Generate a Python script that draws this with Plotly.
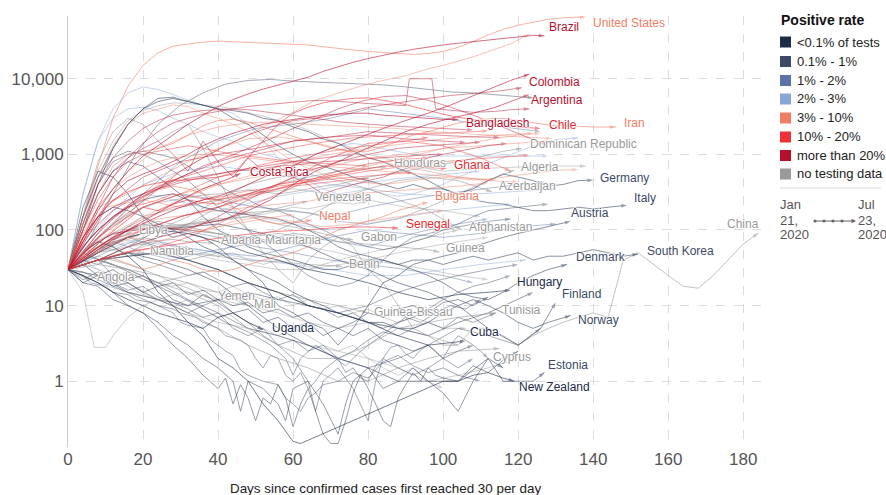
import math
import plotly.graph_objects as go

# ---------------- categories ----------------
CATEGORIES = ["<0.1% of tests", "0.1% - 1%", "1% - 2%", "2% - 3%",
              "3% - 10%", "10% - 20%", "more than 20%", "no testing data"]
CAT_COLORS = ["#1c2b48", "#3b4a66", "#5a72a6", "#87a7da",
              "#f07e66", "#ec3237", "#b5102e", "#9b9b9b"]

X_TICKS = [0, 20, 40, 60, 80, 100, 120, 140, 160, 180]
Y_TICKS = [1, 10, 100, 1000, 10000]
Y_TICK_TEXT = ["1", "10", "100", "1,000", "10,000"]

# ---------------- labelled countries: (day, 7-day avg new cases) ----------------
united_states = [(0,30),(4,150),(8,700),(12,3000),(16,8000),(20,15000),(24,22000),(28,27000),(32,29000),(36,30500),(40,31500),(44,31000),(48,30000),(52,29500),(56,29000),(60,28500),(64,28000),(68,26500),(72,25500),(76,24000),(80,23000),(84,22000),(88,21500),(92,21000),(96,21500),(100,23000),(104,26000),(108,31000),(112,38000),(116,45000),(120,51000),(124,56000),(128,61000),(132,64000),(138,66000)]
brazil = [(0,30),(4,70),(8,180),(12,350),(16,600),(20,950),(24,1300),(28,1800),(32,2500),(36,3300),(40,4300),(44,5300),(48,6300),(52,7300),(56,8300),(60,9300),(64,10500),(68,12500),(72,14500),(76,16500),(80,18500),(84,20500),(88,22500),(92,24500),(96,26500),(100,28000),(104,29500),(108,31000),(112,32500),(116,34000),(120,35500),(124,37500),(127,37000)]
colombia = [(0,30),(6,50),(12,80),(18,110),(24,150),(30,200),(36,250),(42,300),(48,400),(54,550),(60,700),(66,1000),(72,1300),(78,1700),(84,2200),(90,2800),(96,3500),(102,4500),(108,6000),(114,8000),(118,9500),(123,11500)]
argentina = [(0,30),(6,60),(12,90),(18,100),(24,110),(30,100),(36,120),(42,140),(48,180),(54,250),(60,400),(66,600),(72,800),(78,1100),(84,1500),(90,2000),(96,2500),(102,3000),(108,3500),(114,4200),(118,5000),(123,6200)]
bangladesh = [(0,30),(4,70),(8,150),(12,300),(16,450),(20,550),(24,650),(28,800),(32,1000),(36,1300),(40,1600),(44,1900),(48,2200),(52,2500),(56,2700),(60,2900),(64,3100),(68,3300),(72,3400),(76,3500),(80,3500),(84,3300),(88,3200),(92,3100),(96,3000),(100,2900),(104,2900)]
chile = [(0,30),(4,80),(8,150),(12,250),(16,320),(20,380),(24,420),(28,450),(32,460),(36,480),(40,500),(44,550),(48,900),(52,1500),(56,2500),(60,3500),(64,4200),(68,4800),(72,5200),(76,5500),(80,5600),(84,5200),(88,4800),(92,4300),(96,3800),(100,3400),(104,3100),(108,2900),(112,2700),(116,2500),(120,2300),(126,2200)]
iran = [(0,30),(4,100),(8,300),(12,700),(16,1000),(20,1100),(24,1200),(28,1400),(32,1800),(36,2400),(40,2800),(44,2900),(48,2700),(52,2300),(56,2000),(60,1700),(64,1500),(68,1300),(72,1150),(76,1100),(80,1100),(84,1250),(88,1500),(92,1800),(96,2000),(100,2300),(104,2600),(108,2800),(112,2950),(116,3000),(120,2800),(124,2600),(128,2450),(132,2400),(136,2350),(140,2300),(146,2300)]
costa_rica = [(0,30),(4,40),(8,55),(12,75),(16,100),(20,130),(24,170),(28,220),(32,280),(36,350),(40,420),(44,500),(46,560)]
ghana = [(0,30),(4,50),(8,80),(12,110),(16,150),(20,200),(24,180),(28,220),(32,250),(36,230),(40,220),(44,260),(48,300),(52,350),(56,400),(60,430),(64,460),(68,500),(72,550),(76,600),(80,650),(84,700),(88,700),(92,680),(96,660),(101,650)]
bulgaria = [(0,30),(4,35),(8,40),(12,42),(16,36),(20,30),(24,34),(28,40),(32,36),(36,30),(40,28),(44,30),(48,35),(52,40),(56,45),(60,50),(64,60),(68,80),(72,100),(76,115),(80,130),(84,150),(88,180),(92,205),(96,234)]
nepal = [(0,30),(4,50),(8,80),(12,120),(16,190),(20,280),(24,340),(28,380),(32,350),(36,300),(40,250),(44,200),(48,160),(52,130),(56,120),(60,125),(65,135)]
senegal = [(0,30),(8,40),(16,52),(24,60),(32,68),(40,78),(48,88),(56,96),(64,100),(72,108),(80,110),(88,106)]
honduras = [(0,30),(8,40),(16,50),(24,80),(32,120),(40,200),(48,300),(56,400),(64,500),(72,600),(80,660),(85,680)]
dominican_republic = [(0,30),(4,50),(8,80),(12,120),(16,160),(20,200),(24,230),(28,250),(32,270),(36,290),(40,300),(44,320),(48,340),(52,320),(56,300),(60,320),(64,350),(68,380),(72,400),(76,450),(80,500),(84,540),(88,580),(92,620),(96,680),(100,740),(104,800),(108,880),(112,980),(116,1100),(121,1200)]
algeria = [(0,30),(8,60),(16,100),(24,110),(32,120),(40,130),(48,170),(56,180),(64,170),(72,130),(80,120),(88,140),(96,200),(104,300),(112,450),(119,620)]
azerbaijan = [(0,30),(8,40),(16,50),(24,48),(32,40),(40,50),(48,80),(56,100),(64,150),(72,250),(80,350),(88,450),(96,500),(104,450),(113,320)]
venezuela = [(0,30),(8,55),(16,80),(24,100),(32,115),(40,130),(48,150),(56,195),(64,240)]
afghanistan = [(0,30),(8,40),(16,60),(24,100),(32,150),(40,250),(48,400),(56,500),(64,550),(72,450),(80,350),(88,250),(96,180),(105,100)]
gabon = [(0,30),(8,40),(16,60),(24,100),(32,120),(40,140),(48,150),(56,120),(64,100),(72,80),(76,74)]
guinea = [(0,30),(8,50),(16,100),(24,120),(32,100),(40,90),(48,80),(56,90),(64,80),(72,70),(80,65),(88,60),(96,55),(99,51)]
libya = [(0,30),(4,40),(8,55),(12,75),(17,94)]
albania = [(0,30),(4,40),(8,50),(12,55),(16,60),(20,65),(24,72),(28,75),(32,70),(36,68),(39,67)]
mauritania = [(0,30),(8,60),(16,100),(24,130),(32,110),(40,90),(48,72),(51,67)]
namibia = [(0,30),(4,35),(8,40),(12,45),(16,50),(20,48)]
benin = [(0,30),(8,40),(16,45),(24,50),(32,50),(40,45),(48,40),(56,38),(64,35),(73,33)]
angola = [(0,30),(3,25),(6,22)]
yemen = [(0,30),(4,40),(8,45),(12,40),(16,35),(20,30),(24,25),(28,20),(32,17),(36,14),(38,12.7)]
mali = [(0,30),(8,35),(16,30),(24,25),(32,20),(40,15),(48,10)]
guinea_bissau = [(0,30),(8,40),(16,30),(24,20),(32,25),(40,30),(48,20),(56,15),(64,12),(72,10),(80,8)]
tunisia = [(0,30),(8,40),(16,30),(24,20),(32,15),(40,10),(48,5),(56,3),(64,2),(72,2),(80,3),(88,5),(96,6),(104,7),(114,8)]
cyprus = [(0,30),(8,25),(16,20),(24,12),(32,8),(40,5),(48,3),(56,2),(64,1.5),(72,1),(80,1),(88,1.5),(96,2),(104,2.5),(115,2.7)]
china = [(0,30),(4,150),(8,800),(12,2000),(16,3000),(20,2500),(24,1500),(28,2000),(32,2500),(36,1200),(40,500),(44,200),(48,100),(52,50),(56,30),(60,20),(64,40),(68,60),(72,80),(76,60),(80,30),(84,20),(88,10),(92,5),(96,4),(100,3),(104,3),(108,5),(112,5),(116,4),(120,3),(124,4),(128,5),(132,6),(136,7),(140,8),(144,7),(148,40),(152,50),(156,35),(160,25),(164,18),(168,17),(172,25),(176,40),(180,65),(184,91)]
germany = [(0,30),(4,100),(8,400),(12,1200),(16,2500),(20,4000),(24,5000),(28,5500),(32,5000),(36,4500),(40,4000),(44,3000),(48,2500),(52,1800),(56,1300),(60,1000),(64,800),(68,700),(72,600),(76,500),(80,450),(84,400),(88,350),(92,400),(96,350),(100,350),(104,300),(108,350),(112,450),(116,550),(120,500),(124,450),(128,380),(132,400),(136,450),(140,457)]
italy = [(0,30),(4,150),(8,500),(12,1200),(16,2500),(20,4000),(24,5500),(28,5700),(32,5000),(36,4500),(40,4000),(44,3800),(48,3500),(52,3000),(56,2800),(60,2300),(64,2000),(68,1600),(72,1400),(76,1100),(80,900),(84,800),(88,650),(92,550),(96,450),(100,350),(104,300),(108,250),(112,230),(116,220),(120,200),(124,180),(128,180),(132,190),(136,200),(140,190),(144,200),(149,213)]
austria = [(0,30),(4,100),(8,300),(12,600),(16,800),(20,700),(24,500),(28,350),(32,250),(36,150),(40,100),(44,80),(48,60),(52,50),(56,45),(60,40),(64,35),(68,30),(72,30),(76,35),(80,40),(84,40),(88,35),(92,40),(96,40),(100,45),(104,50),(108,60),(112,70),(116,80),(120,90),(124,100),(128,110),(134,130)]
denmark = [(0,30),(4,60),(8,100),(12,150),(16,200),(20,250),(24,280),(28,300),(32,250),(36,200),(40,180),(44,170),(48,160),(52,150),(56,140),(60,120),(64,100),(68,80),(72,60),(76,50),(80,45),(84,40),(88,35),(92,30),(96,25),(100,20),(104,15),(108,13),(112,12),(116,15),(120,20),(124,25),(128,30),(133,35)]
south_korea = [(0,30),(4,200),(8,600),(12,500),(16,300),(20,150),(24,100),(28,80),(32,90),(36,80),(40,60),(44,40),(48,30),(52,20),(56,10),(60,8),(64,6),(68,5),(72,3),(76,5),(80,10),(84,20),(88,25),(92,35),(96,40),(100,35),(104,40),(108,45),(112,40),(116,45),(120,50),(124,40),(128,45),(132,45),(136,50),(140,55),(144,50),(148,45),(152,48)]
hungary = [(0,30),(8,50),(16,80),(24,100),(32,90),(40,70),(48,50),(56,40),(64,30),(72,25),(80,20),(88,15),(96,12),(104,14),(112,15),(118,16)]
finland = [(0,30),(8,50),(16,80),(24,100),(32,110),(40,120),(48,100),(56,80),(64,60),(72,40),(80,30),(88,20),(96,15),(104,10),(112,5),(120,3),(126,5),(130,11)]
norway = [(0,30),(4,80),(8,150),(12,200),(16,180),(20,150),(24,120),(28,100),(32,80),(36,60),(40,50),(44,40),(48,30),(52,25),(56,20),(60,15),(64,12),(68,10),(72,8),(76,7),(80,6),(84,6),(88,5),(92,5),(96,6),(100,8),(104,10),(108,12),(112,10),(116,8),(120,6),(124,5),(128,6),(134,7.4)]
estonia = [(0,30),(8,40),(16,50),(24,40),(32,30),(40,20),(48,10),(56,5),(64,3),(72,2),(80,1.5),(88,1),(96,1),(104,1),(112,2),(116,1),(120,1),(124,1),(127,1.3)]
new_zealand = [(0,30),(4,50),(8,70),(12,60),(16,45),(20,30),(24,15),(28,10),(32,6),(36,4),(40,2),(44,1.5),(48,1),(52,0.5),(56,0.3),(60,0.16),(62,0.15),(100,1),(104,1),(108,1.2),(112,1.3),(116,1.1),(119,1.0)]
cuba = [(0,30),(8,40),(16,45),(24,50),(32,40),(40,30),(48,20),(56,15),(64,10),(72,8),(80,6),(88,4),(96,3),(106,3.4)]
uganda = [(0,30),(4,25),(8,20),(12,15),(16,12),(20,10),(24,8),(28,7),(32,6),(36,5),(40,7),(44,8),(48,6),(52,4.8)]

# ---------------- unlabelled countries ----------------
un_india = [(0,30),(6,60),(12,100),(18,200),(24,400),(30,600),(36,900),(42,1300),(48,1800),(54,2600),(60,3600),(66,5200),(72,6500),(78,8000),(84,9500),(90,11000),(96,13500),(102,16000),(108,19500),(114,24500),(118,29000),(123,39000)]
un_mexico = [(0,30),(6,60),(12,120),(18,200),(24,350),(30,600),(36,900),(42,1300),(48,1800),(54,2300),(60,2800),(66,3000),(72,3400),(78,4000),(84,4500),(90,5000),(96,5500),(102,6000),(108,6400),(114,6800),(121,7600)]
un_peru = [(0,30),(4,80),(8,200),(12,500),(16,900),(20,1400),(24,2000),(28,2600),(32,3000),(36,3400),(40,3700),(44,4000),(48,4300),(52,4500),(56,4700),(60,4900),(64,5100),(68,5200),(72,5000),(76,4800),(80,4700),(84,4600),(88,4500),(90,4400),(91,10000),(97,10000),(98,4000),(102,3800),(108,3600),(114,3700),(118,3900),(123,4000)]
un_r1 = [(0,30),(10,200),(20,500),(30,800),(40,1000),(50,1200),(60,1500),(70,1700),(80,2000),(90,1900),(100,1800),(108,1700),(115,1680)]
un_r2 = [(0,30),(10,120),(20,300),(30,500),(40,800),(50,1100),(60,1500),(70,1700),(80,1800),(90,1600),(100,1500),(106,1440)]
un_r3 = [(0,30),(10,80),(20,200),(30,300),(40,500),(50,700),(60,900),(70,1100),(80,1300),(90,1500),(96,1680)]
un_r4 = [(0,30),(10,70),(20,150),(30,250),(40,400),(50,550),(60,800),(70,1000),(80,1200),(90,1400),(100,1600),(110,1750),(124,1900)]
un_r5 = [(0,30),(8,200),(16,600),(24,1200),(32,1800),(40,2300),(48,2600),(56,2700),(64,2500),(72,2400),(80,2300),(88,2200),(96,2000),(104,1900),(112,1800),(120,1700),(129,1620)]
un_r6 = [(0,30),(10,70),(20,100),(30,150),(40,200),(50,280),(60,400),(70,500),(80,600),(90,700),(100,800),(110,880),(123,970)]
un_r7 = [(0,30),(4,120),(8,500),(12,1300),(16,2500),(20,3500),(24,4000),(28,4500),(32,4300),(36,3500),(40,3000),(44,2500),(48,2000),(52,1500),(56,1100),(60,800),(64,650),(68,550),(72,500),(76,450),(80,420),(84,400),(88,420),(92,450),(96,480),(100,500),(104,480),(108,460),(112,470),(116,500),(120,520),(124,560),(128,600),(132,620),(136,630)]
un_r9 = [(0,30),(6,80),(12,150),(18,250),(24,350),(30,500),(36,700),(42,900),(48,1200),(54,1600),(60,2200),(66,3000),(72,4000),(78,5000),(84,5800),(90,6000),(96,5200),(102,4200),(108,3300),(114,2500),(120,1900),(128,1300)]
un_r11 = [(0,30),(10,200),(20,250),(30,200),(40,250),(50,300),(60,400),(70,500),(80,700),(90,900),(100,1200),(110,1500),(120,1800),(126,1900)]
un_r12 = [(0,30),(10,80),(20,200),(30,300),(40,400),(50,500),(60,600),(70,700),(80,900),(90,1000),(100,1200),(110,1300),(120,1400),(128,1500)]
un_r13 = [(0,30),(10,60),(20,100),(30,150),(40,200),(50,300),(60,500),(70,900),(80,1400),(90,1500),(100,1300),(110,900),(118,600)]
un_r14 = [(0,30),(8,40),(16,60),(24,80),(32,100),(40,150),(48,250),(56,400),(64,600),(72,800),(80,1000),(88,1200),(96,1300),(104,1400),(110,1450)]
un_r15 = [(0,30),(8,200),(16,300),(24,500),(32,800),(40,1200),(48,1600),(56,1700),(64,1500),(72,1200),(80,900),(88,700),(96,600),(104,500),(112,450),(120,430)]
un_r16 = [(0,30),(8,40),(16,50),(24,60),(32,80),(40,120),(48,200),(56,300),(64,450),(72,600),(80,750),(88,850),(96,900)]
un_r17 = [(0,30),(4,100),(8,300),(12,600),(16,900),(20,1200),(24,1500),(28,1000),(32,600),(36,1500),(40,800),(44,500),(48,900),(52,600),(56,700),(60,500),(64,400),(68,300),(72,350),(76,400),(80,450),(84,500),(88,600),(92,700),(96,900),(100,1000),(104,1100),(108,1200),(112,1300),(117,1400)]
un_r18 = [(0,30),(4,60),(8,100),(12,150),(16,200),(20,220),(24,250),(28,300),(32,280),(36,260),(40,250),(44,280),(48,300),(52,320),(56,350),(60,380),(64,400),(68,420),(72,450),(76,470),(80,480)]
un_r19 = [(0,30),(4,80),(8,150),(12,200),(16,250),(20,300),(24,350),(28,400),(32,450),(36,500),(40,550),(44,600),(48,650),(52,700),(56,750),(60,800),(64,850),(68,900),(72,950),(76,1000)]
un_r20 = [(0,30),(4,40),(8,60),(12,80),(16,100),(20,120),(24,140),(28,150),(32,160),(36,170),(40,180),(44,190),(48,200),(52,210),(56,220),(60,230),(64,240),(68,260),(72,280),(76,300),(80,310),(84,320),(88,330),(92,340),(96,350),(100,360),(104,380),(108,400),(112,420)]
un_r21 = [(0,30),(4,100),(8,250),(12,500),(16,800),(20,1000),(24,1100),(28,1200),(32,1300),(36,1200),(40,1100),(44,1000),(48,950),(52,900),(56,850),(60,800),(64,780),(68,760),(72,740),(76,720),(80,700)]
un_r22 = [(0,30),(4,50),(8,60),(12,70),(16,80),(20,75),(24,70),(28,80),(32,90),(36,100),(40,110),(44,120),(48,130),(52,140),(56,150),(60,160)]
un_r23 = [(0,30),(4,70),(8,120),(12,180),(16,240),(20,300),(24,380),(28,460),(32,520),(36,600),(40,700),(44,820),(48,950),(52,1050),(56,1150),(60,1250),(64,1350),(68,1450),(72,1550),(76,1650),(80,1700),(84,1750),(88,1800),(92,1850),(96,1900),(100,1900),(104,1950),(108,2000),(112,2050)]
un_r24 = [(0,30),(4,50),(8,90),(12,140),(16,200),(20,270),(24,350),(28,420),(32,480),(36,520),(40,560),(44,600),(48,620),(52,650),(56,700),(60,720),(64,760),(68,800),(72,820),(76,850),(80,880),(84,900),(88,930),(92,960),(96,990),(100,1000)]
un_r25 = [(0,30),(4,90),(8,200),(12,350),(16,500),(20,650),(24,800),(28,900),(32,950),(36,1000),(40,980),(44,950),(48,900),(52,850),(56,800),(60,760),(64,720),(68,700),(72,680),(76,650),(80,620),(84,600),(88,580),(92,560),(96,540),(100,520),(104,500),(108,480),(114,460)]
un_r26 = [(0,30),(4,120),(8,400),(12,900),(16,1500),(20,2200),(24,2800),(28,3300),(32,3600),(36,3800),(40,3900),(44,4000),(48,3900),(52,3700),(56,3500),(60,3300),(64,3100),(68,2900),(72,2700),(76,2600),(80,2500),(84,2400),(88,2350),(92,2300),(96,2250),(100,2200),(104,2150),(108,2100)]
un_r27 = [(0,30),(4,45),(8,60),(12,80),(16,110),(20,140),(24,170),(28,200),(32,220),(36,250),(40,270),(44,300),(48,330),(52,350),(56,380),(60,400),(64,430),(68,460),(72,480),(76,500),(80,520),(84,540),(88,560),(92,580)]
un_r28 = [(0,30),(4,40),(8,50),(12,65),(16,75),(20,90),(24,100),(28,110),(32,100),(36,95),(40,110),(44,130),(48,140),(52,150),(56,140),(60,130),(64,120),(68,110),(72,115),(76,120),(80,130),(84,140),(88,150),(92,160),(96,170),(100,180)]
un_b1 = [(0,30),(10,100),(20,200),(30,300),(40,250),(50,200),(60,180),(70,150),(80,200),(90,250),(100,300),(110,350),(120,400),(127,420)]
un_b2 = [(0,30),(10,60),(20,100),(30,150),(40,200),(50,150),(60,120),(70,100),(80,120),(90,150),(100,180),(110,200),(118,220)]
un_b3 = [(0,30),(10,50),(20,80),(30,60),(40,50),(50,45),(60,60),(70,80),(80,100),(90,90),(100,80),(110,90),(120,110),(130,120)]
un_b4 = [(0,30),(10,150),(20,400),(30,600),(40,700),(50,600),(60,500),(70,400),(80,350),(90,300),(100,280),(110,300),(120,320),(130,350)]
un_b5 = [(0,30),(10,80),(20,120),(30,100),(40,80),(50,60),(60,50),(70,40),(80,35),(90,30),(100,25),(108,20)]
un_b6 = [(0,30),(5,60),(10,80),(20,70),(30,60),(40,50),(50,40),(60,35),(70,30),(80,25),(90,25),(100,30),(110,35),(122,40)]
un_b7 = [(0,30),(6,80),(12,300),(18,1000),(24,2500),(30,4500),(36,6500),(42,8500),(48,9500),(54,9800),(60,9300),(66,9000),(72,8800),(78,8600),(84,8300),(90,7800),(96,7200),(102,6700),(108,6500),(114,6200),(120,5800),(124,5600)]
un_b8 = [(0,30),(10,100),(20,300),(30,800),(40,1500),(50,2200),(60,2500),(70,3000),(80,4000),(90,3500),(100,3000),(110,2500),(120,2200),(126,2000)]
un_b9 = [(0,30),(4,150),(8,600),(12,1500),(16,2800),(20,3800),(24,4400),(28,4800),(32,4700),(36,4500),(40,4300),(44,4000),(48,3600),(52,3200),(56,2800),(60,2500),(64,2100),(68,1700),(72,1400),(76,1200),(80,1000),(84,900),(88,800),(92,700),(96,650),(100,600),(104,620),(108,640),(112,650),(116,670),(120,680),(124,690),(128,700),(132,700),(138,700)]
un_b10 = [(0,30),(4,300),(8,1500),(12,3000),(16,4000),(20,4200),(24,3800),(28,3000),(32,2500),(36,2000),(40,1700),(44,1500),(48,1200),(52,1000),(56,900),(60,800),(64,900),(68,1100),(72,1300),(76,1400),(80,1300),(84,1200),(88,1100),(92,1000),(96,950),(100,950),(104,950),(110,950),(118,950),(124,950),(128,950)]
un_b11 = [(0,30),(4,300),(8,1500),(12,4000),(16,6500),(20,7800),(24,7200),(28,6200),(32,5200),(36,4500),(40,4000),(44,3500),(48,2500),(52,1500),(56,900),(60,600),(64,450),(68,350),(72,300),(76,320),(80,350),(84,300),(88,280),(92,300),(96,350),(100,400),(104,500),(108,600),(112,750),(116,900),(120,1100),(124,1300),(128,1500),(132,1600),(136,1650)]
un_b12 = [(0,30),(4,120),(8,400),(12,800),(16,1000),(20,1100),(24,1000),(28,900),(32,700),(36,500),(40,400),(44,300),(48,250),(52,200),(56,180),(60,150),(64,120),(68,100),(72,80),(76,70),(80,60),(84,55),(88,60),(92,70),(96,80),(100,100),(104,120),(108,150),(112,180),(120,200),(128,220)]
un_b13 = [(0,30),(4,150),(8,500),(12,900),(16,1100),(20,1000),(24,800),(28,600),(32,450),(36,300),(40,200),(44,150),(48,100),(52,70),(56,50),(60,35),(64,25),(68,20),(72,18),(76,20),(80,25),(84,40),(88,60),(92,80),(96,90),(100,100),(104,110),(108,120),(112,130),(118,140)]
un_b14 = [(0,30),(4,40),(8,55),(12,70),(16,60),(20,50),(24,45),(28,40),(32,45),(36,50),(40,55),(44,60),(48,65),(52,70),(56,80),(60,90),(64,85),(68,80),(72,70),(76,65),(80,60),(84,70),(88,80),(92,90),(96,100),(100,110),(104,120),(108,130),(112,140)]
un_b15 = [(0,30),(4,60),(8,100),(12,180),(16,250),(20,300),(24,280),(28,250),(32,220),(36,200),(40,180),(44,200),(48,220),(52,250),(56,280),(60,300),(64,320),(68,350),(72,380),(76,400),(80,420),(84,450),(88,480),(92,500),(96,520),(100,540),(104,560),(110,600)]
un_g1 = [(0,30),(10,80),(20,150),(30,200),(40,250),(50,300),(60,350),(70,300),(80,250),(90,200),(100,180),(110,150)]
un_g2 = [(0,30),(8,40),(16,60),(24,80),(32,100),(40,90),(48,80),(56,70),(64,60),(72,50),(80,40),(88,35),(96,30),(104,25),(112,22)]
un_g3 = [(0,30),(8,50),(16,70),(24,60),(32,50),(40,40),(48,35),(56,30),(64,30),(72,35),(80,40),(88,50),(96,60),(104,70),(112,80)]
un_g4 = [(0,30),(8,20),(16,15),(24,12),(32,8),(40,6),(48,5),(56,4),(64,3),(72,2.5),(80,2),(88,1.5),(96,1),(104,1.2),(112,1.5),(120,2)]
un_g5 = [(0,30),(4,15),(7,2.8),(10,2.8),(12,4),(16,7),(20,10),(24,12),(28,14),(32,15),(40,12),(48,10),(56,8),(64,6),(72,5),(80,6),(88,5),(96,4),(104,3)]
un_g6 = [(0,30),(4,35),(8,30),(12,25),(16,28),(20,22),(24,20),(28,18),(32,20),(36,16),(40,15),(44,18),(48,14),(52,12),(56,13),(60,10),(64,12),(68,9),(72,10),(76,8),(80,9),(84,7),(88,6),(92,7),(96,6),(100,5),(106,5)]
un_g7 = [(0,30),(4,45),(8,60),(12,55),(16,50),(20,60),(24,70),(28,60),(32,55),(36,50),(40,45),(44,50),(48,40),(52,35),(56,40),(60,35),(64,30),(68,35),(72,40),(76,45),(80,50),(84,55),(88,60),(92,70),(96,80),(100,90),(104,100)]
un_g8 = [(0,30),(4,40),(8,30),(12,22),(16,18),(20,14),(24,12),(28,10),(32,12),(36,9),(40,7),(44,8),(48,6),(52,5),(56,4),(60,5),(64,4),(68,3),(72,2.5),(76,3),(80,2),(84,1.5),(88,1.2),(92,1.5),(96,1),(100,0.8)]
un_g9 = [(0,30),(4,50),(8,70),(12,90),(16,110),(20,120),(24,110),(28,100),(32,120),(36,140),(40,130),(44,150),(48,170),(52,160),(56,180),(60,200),(64,190),(68,210),(72,230),(76,220),(80,240)]
un_n1 = [(0,30),(4,25),(6,20),(10,18),(12,15),(16,14),(18,12),(22,11),(24,10),(28,9),(30,8),(34,7),(36,6),(40,5),(42,4),(46,3.5),(48,3),(50,2),(52,1.5),(54,2.2),(56,2),(58,1.2),(60,1),(62,1.3),(64,0.8),(66,1),(68,1.4),(72,2),(74,1.3),(76,1.5),(78,1.1),(80,1),(82,1.6),(84,2),(86,2.8),(88,3),(90,2.3),(92,2),(94,2.6),(96,3),(98,2.5),(100,2),(102,3),(104,4),(106,3.5),(108,3),(110,2.5),(112,2)]
un_n2 = [(0,30),(4,20),(8,18),(12,12),(16,10),(20,8),(24,6),(28,4),(32,3),(36,2),(40,1.5),(44,1),(46,0.4),(48,1),(52,0.8),(56,0.5),(58,0.3),(60,0.8),(64,1),(68,0.5),(72,0.2),(74,0.5),(76,1),(80,1.5),(84,0.8),(88,1),(92,1.5),(96,1),(100,0.7),(104,0.4),(108,1),(112,2),(116,1.5)]
un_n3 = [(0,30),(8,40),(16,30),(24,20),(32,12),(40,8),(48,5),(56,4),(64,3),(72,2),(80,1.5),(88,2),(96,3),(104,5),(112,4),(120,3),(126,5)]
un_n4 = [(0,30),(4,25),(8,20),(12,15),(16,10),(20,8),(24,5),(28,3),(32,2),(36,1.2),(40,0.8),(42,1.1),(44,0.5),(46,0.9),(48,0.6),(50,0.3),(52,0.6),(54,0.5),(56,0.9),(58,0.6),(60,0.25),(62,0.5),(64,0.8),(66,0.4),(68,0.2),(70,0.15),(72,0.15),(74,0.3),(76,0.7),(78,1.2),(80,0.8),(82,0.5),(84,0.3),(86,0.25),(88,0.6),(90,0.9),(92,1.3),(94,1),(96,1.5),(98,1.2),(100,1.1),(104,1),(108,1.6),(112,1.3),(116,1.9),(120,2.5)]
un_n5 = [(0,30),(8,60),(16,80),(24,60),(32,40),(40,30),(48,20),(56,15),(64,10),(72,8),(80,10),(88,15),(96,20),(104,25),(112,30),(120,35)]
un_n6 = [(0,30),(8,25),(16,15),(24,12),(32,10),(40,12),(48,15),(56,12),(64,10),(72,8),(80,6),(88,5),(96,4),(104,6),(112,8),(120,12),(124,15)]
un_n7 = [(0,30),(4,50),(8,40),(12,25),(16,20),(20,15),(24,12),(28,10),(32,8),(36,10),(40,12),(44,8),(48,6),(52,4),(56,3),(60,2),(64,1),(66,0.4),(68,1),(72,1.5),(76,0.8),(80,0.3),(82,1),(84,2),(88,1.5),(92,1.2),(96,1.5),(100,2),(104,1.5),(108,2)]
un_n8 = [(0,30),(4,28),(8,22),(12,18),(16,15),(20,12),(24,10),(28,8),(30,6),(32,5.5),(36,5),(38,3.5),(40,3),(42,2.5),(44,2.2),(46,1.4),(48,1.2),(52,1),(56,0.9),(58,0.6),(60,0.5),(62,0.4),(64,0.6),(66,0.7),(68,0.9),(72,1),(76,1.3),(80,1.1),(84,1.8),(88,2.2),(92,1.6),(96,1.3),(100,1.5),(104,1.2),(110,1)]
un_n9 = [(0,30),(4,20),(8,25),(12,18),(16,20),(20,15),(24,18),(28,12),(32,10),(36,14),(40,11),(44,8),(48,9),(52,6),(56,7),(60,5),(64,6),(68,4),(72,5),(76,6),(80,8),(84,7),(88,9),(92,10),(96,8),(100,11),(104,12),(108,10),(112,13)]
un_n10 = [(0,30),(4,40),(8,35),(12,45),(16,50),(20,40),(24,35),(28,30),(32,25),(36,28),(40,22),(44,18),(48,20),(52,15),(56,12),(60,14),(64,10),(68,9),(72,7),(76,8),(80,6),(84,5),(88,6),(92,7),(96,9),(100,12),(104,15),(108,18),(112,20),(118,25)]
un_n11 = [(0,30),(4,22),(8,28),(12,20),(16,16),(20,18),(24,13),(28,11),(32,9),(36,7),(40,8),(44,5),(48,4),(52,5),(56,3),(60,3.5),(64,2.5),(68,3),(72,2),(76,2.5),(80,3.5),(84,4.5),(88,4),(92,5),(96,6),(100,5),(104,7),(108,6),(114,8)]
un_n12 = [(0,30),(4,35),(8,25),(12,30),(16,22),(20,25),(24,18),(28,20),(32,14),(36,16),(40,12),(44,10),(48,11),(52,8),(56,9),(60,7),(64,8),(68,6),(72,5),(76,4),(80,5),(84,3.5),(88,3),(92,2.5),(96,3),(100,2),(104,2.5),(108,3)]
un_n13 = [(0,30),(6,45),(12,35),(18,25),(24,18),(30,13),(36,9),(42,6),(48,4.5),(54,3),(58,2),(60,1.2),(62,2),(66,3),(70,2.2),(74,1.6),(78,2.5),(82,3.5),(86,5),(90,7),(94,6),(98,8),(102,10),(106,9),(110,12)]

# (label or None, category index, series)
SERIES = [
    (None, 7, un_g1), (None, 7, un_g2), (None, 7, un_g3), (None, 7, un_g4), (None, 7, un_g5),
    (None, 7, un_g6), (None, 7, un_g7), (None, 7, un_g8), (None, 7, un_g9),
    (None, 1, un_n1), (None, 0, un_n2), (None, 1, un_n3), (None, 0, un_n4), (None, 1, un_n5),
    (None, 0, un_n6), (None, 1, un_n7), (None, 1, un_n8), (None, 0, un_n9), (None, 1, un_n10),
    (None, 1, un_n11), (None, 0, un_n12), (None, 1, un_n13),
    (None, 2, un_b1), (None, 3, un_b2), (None, 2, un_b3), (None, 3, un_b4), (None, 2, un_b5),
    (None, 3, un_b6), (None, 1, un_b7), (None, 2, un_b8), (None, 7, un_b9), (None, 3, un_b10),
    (None, 3, un_b11), (None, 1, un_b12), (None, 1, un_b13), (None, 2, un_b14), (None, 3, un_b15),
    ("Honduras", 7, honduras), ("Dominican Republic", 7, dominican_republic), ("Algeria", 7, algeria),
    ("Azerbaijan", 7, azerbaijan), ("Venezuela", 7, venezuela), ("Afghanistan", 7, afghanistan),
    ("Gabon", 7, gabon), ("Guinea", 7, guinea), ("Libya", 7, libya), ("Albania", 7, albania),
    ("Mauritania", 7, mauritania), ("Namibia", 7, namibia), ("Benin", 7, benin), ("Angola", 7, angola),
    ("Yemen", 7, yemen), ("Mali", 7, mali), ("Guinea-Bissau", 7, guinea_bissau), ("Tunisia", 7, tunisia),
    ("Cyprus", 7, cyprus), ("China", 7, china),
    ("Germany", 1, germany), ("Italy", 1, italy), ("Austria", 1, austria), ("Denmark", 1, denmark),
    ("South Korea", 1, south_korea), ("Hungary", 0, hungary), ("Finland", 1, finland),
    ("Norway", 1, norway), ("Estonia", 1, estonia), ("New Zealand", 0, new_zealand),
    ("Cuba", 0, cuba), ("Uganda", 0, uganda),
    (None, 4, un_r4), (None, 4, un_r5), (None, 4, un_r7), (None, 4, un_r11), (None, 4, un_r12),
    (None, 4, un_r15), (None, 4, un_r20), (None, 4, un_r22), (None, 4, un_india),
    (None, 4, un_r25), (None, 4, un_r28),
    (None, 5, un_r3), (None, 5, un_r6), (None, 5, un_r13), (None, 5, un_r16), (None, 5, un_r18),
    (None, 5, un_r21), (None, 5, un_r23), (None, 5, un_r27),
    (None, 6, un_r1), (None, 6, un_r2), (None, 6, un_r9), (None, 6, un_r14), (None, 6, un_r17),
    (None, 6, un_r19), (None, 6, un_mexico), (None, 6, un_peru), (None, 6, un_r24), (None, 6, un_r26),
    ("United States", 4, united_states), ("Iran", 4, iran), ("Bulgaria", 4, bulgaria), ("Nepal", 4, nepal),
    ("Chile", 5, chile), ("Ghana", 5, ghana), ("Senegal", 5, senegal),
    ("Brazil", 6, brazil), ("Colombia", 6, colombia), ("Argentina", 6, argentina),
    ("Bangladesh", 6, bangladesh), ("Costa Rica", 6, costa_rica),
]

# label placement relative to the end of each line (px): xshift, yshift, anchor
LABEL_OFFSETS = {
    "United States": (5, -6, "left"), "Brazil": (3, 9, "left"), "Colombia": (-2, -8, "left"),
    "Argentina": (0, -6, "left"), "Bangladesh": (6, -4, "left"), "Chile": (6, 3, "left"),
    "Iran": (6, 4, "left"), "Costa Rica": (7, 1, "left"), "Ghana": (5, 4, "left"),
    "Bulgaria": (5, 6, "left"), "Nepal": (5, 4, "left"), "Senegal": (6, 4, "left"),
    "Honduras": (5, 4, "left"), "Dominican Republic": (6, 4, "left"), "Algeria": (5, 3, "left"),
    "Azerbaijan": (5, 6, "left"), "Venezuela": (5, 4, "left"), "Afghanistan": (5, 3, "left"),
    "Gabon": (6, 3, "left"), "Guinea": (5, 4, "left"), "Libya": (5, 2, "left"),
    "Albania": (5, 3, "left"), "Mauritania": (4, 3, "left"), "Namibia": (5, 3, "left"),
    "Benin": (5, 2, "left"), "Angola": (4, 3, "left"), "Yemen": (5, 2, "left"),
    "Mali": (4, 2, "left"), "Guinea-Bissau": (4, 1, "left"), "Tunisia": (4, 3, "left"),
    "Cyprus": (-8, -8, "left"), "China": (3, 9, "right"), "Germany": (5, 2, "left"),
    "Italy": (5, 7, "left"), "Austria": (-2, 8, "left"), "Denmark": (7, 7, "left"),
    "South Korea": (7, 3, "left"), "Hungary": (4, 8, "left"), "Finland": (4, 8, "left"),
    "Norway": (5, -5, "left"), "Estonia": (2, 8, "left"), "New Zealand": (3, -6, "left"),
    "Cuba": (2, 9, "left"), "Uganda": (7, 2, "left"),
}
LABEL_COLORS = ["#1c2b48", "#3b4a66", "#5a72a6", "#87a7da",
                "#f07e66", "#e4282e", "#b5102e", "#9a9a9a"]

FONT = "Arial, Liberation Sans, sans-serif"
HALO = "1px 0px 1px #fff, -1px 0px 1px #fff, 0px 1px 1px #fff, 0px -1px 1px #fff"

fig = go.Figure()
annotations = []
for label, cat, pts in SERIES:
    xs = [d for d, v in pts]
    ys = [v for d, v in pts]
    col = CAT_COLORS[cat]
    fig.add_trace(go.Scatter(
        x=xs, y=ys, mode="lines+markers",
        line=dict(color=col, width=0.8),
        opacity=0.75 if label else 0.58,
        marker=dict(symbol="arrow", angleref="previous",
                    size=[0] * (len(xs) - 1) + [6], color=col, line=dict(width=0)),
        hoverinfo="skip", showlegend=False,
    ))
    if label:
        dx, dy, anch = LABEL_OFFSETS[label]
        annotations.append(dict(
            x=xs[-1], y=math.log10(ys[-1]), xref="x", yref="y",
            text=label, showarrow=False, xanchor=anch, yanchor="middle",
            xshift=dx, yshift=dy,
            font=dict(family=FONT, size=12, color=LABEL_COLORS[cat], shadow=HALO),
        ))

# ---------------- legend (drawn in paper space) ----------------
PL, PR, PT, PB = 68, 762, 16, 447


def px(p):
    return (p - PL) / (PR - PL)


def py(p):
    return (PB - p) / (PB - PT)


shapes = []
annotations.append(dict(x=px(779), y=py(20), xref="paper", yref="paper", text="<b>Positive rate</b>",
                        showarrow=False, xanchor="left", yanchor="middle",
                        font=dict(family=FONT, size=14, color="#111")))
LEGEND_ROWS = [42, 61.5, 80.5, 99, 118, 137, 155.5, 174]
for i, cat in enumerate(CATEGORIES):
    yc = LEGEND_ROWS[i]
    shapes.append(dict(type="rect", xref="paper", yref="paper",
                       x0=px(780), x1=px(791), y0=py(yc + 5.5), y1=py(yc - 5.5),
                       fillcolor=CAT_COLORS[i], line=dict(width=0)))
    annotations.append(dict(x=px(795), y=py(yc), xref="paper", yref="paper", text=cat,
                            showarrow=False, xanchor="left", yanchor="middle",
                            font=dict(family=FONT, size=13, color="#222")))
shapes.append(dict(type="line", xref="paper", yref="paper", x0=px(780), x1=px(881),
                   y0=py(188), y1=py(188), line=dict(color="#dddddd", width=1)))
for txt, yy in [("Jan", 204), ("21,", 220), ("2020", 235)]:
    annotations.append(dict(x=px(778), y=py(yy), xref="paper", yref="paper", text=txt,
                            showarrow=False, xanchor="left", yanchor="middle",
                            font=dict(family=FONT, size=13, color="#555")))
for txt, yy in [("Jul", 204), ("23,", 220), ("2020", 235)]:
    annotations.append(dict(x=px(856), y=py(yy), xref="paper", yref="paper", text=txt,
                            showarrow=False, xanchor="left", yanchor="middle",
                            font=dict(family=FONT, size=13, color="#555")))
annotations.append(dict(x=px(856), y=py(221), xref="paper", yref="paper", text="",
                        showarrow=True, ax=-42, ay=0, arrowhead=2, arrowsize=0.9,
                        arrowwidth=1, arrowcolor="#666"))
for dxp in [815, 824, 833, 842]:
    shapes.append(dict(type="circle", xref="paper", yref="paper",
                       x0=px(dxp - 1.6), x1=px(dxp + 1.6), y0=py(221 + 1.6), y1=py(221 - 1.6),
                       fillcolor="#666", line=dict(width=0)))

annotations.append(dict(x=px(385), y=py(488), xref="paper", yref="paper",
                        text="Days since confirmed cases first reached 30 per day",
                        showarrow=False, xanchor="center", yanchor="middle",
                        font=dict(family=FONT, size=13.4, color="#222")))

fig.update_layout(
    width=886, height=495,
    margin=dict(l=PL, r=886 - PR, t=PT, b=495 - PB, autoexpand=False),
    paper_bgcolor="white", plot_bgcolor="white",
    annotations=annotations, shapes=shapes, showlegend=False,
    xaxis=dict(range=[0, 185], tickvals=X_TICKS, showgrid=True, gridcolor="#dcdcdc",
               griddash="dash", gridwidth=1, zeroline=False, showline=False, ticks="",
               automargin=False,
               tickfont=dict(family=FONT, size=17, color="#555")),
    yaxis=dict(type="log", range=[-0.87, 4.83], tickvals=Y_TICKS, ticktext=Y_TICK_TEXT,
               showgrid=True, gridcolor="#dcdcdc", griddash="dash", gridwidth=1,
               zeroline=False, showline=True, linecolor="#cccccc", linewidth=1, ticks="",
               automargin=False,
               tickfont=dict(family=FONT, size=17, color="#555")),
)

fig.write_html("out.html", config={"displayModeBar": False},
               post_script="document.body.style.margin='0px';document.body.style.overflow='hidden';")
